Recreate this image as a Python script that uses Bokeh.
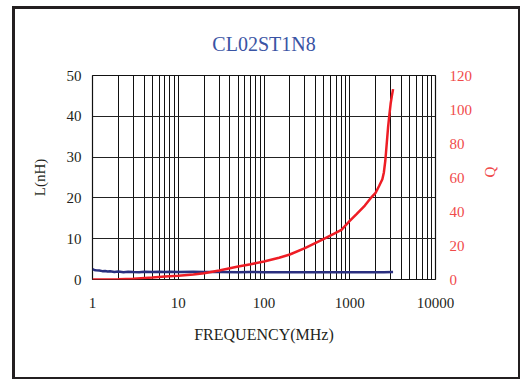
import math
from bokeh.plotting import figure
from bokeh.models import Range1d, LinearAxis, FixedTicker, BasicTickFormatter
from bokeh.embed import file_html
from bokeh.resources import INLINE

# ---- data ----
title_text = "CL02ST1N8"
x_ticks = [1, 10, 100, 1000, 10000]
l_ticks = [0, 10, 20, 30, 40, 50]
q_ticks = [0, 20, 40, 60, 80, 100, 120]

freq_L = [1, 1.05, 1.1, 1.2, 1.3, 1.4, 1.5, 1.6, 1.8, 2, 2.3, 2.6, 3, 3.5, 4, 5, 6, 7, 8,
          10, 15, 20, 30, 50, 70, 100, 150, 200, 300, 500, 700, 1000, 1500, 2000, 2500, 3200]
L_vals = [2.5, 2.35, 2.25, 2.2, 2.05, 2.1, 1.95, 2.0, 1.85, 1.95, 1.8, 1.9, 1.85, 1.8, 1.9, 1.85,
          1.9, 1.85, 1.9, 1.85, 1.9, 1.85, 1.85, 1.8, 1.85, 1.8, 1.8, 1.75, 1.8, 1.75, 1.75,
          1.75, 1.75, 1.8, 1.8, 1.85]

freq_Q = [1, 2, 3, 5, 7, 10, 15, 20, 30, 50, 70, 100, 150, 200, 300, 500, 650, 800,
          1000, 1200, 1500, 1800, 2000, 2200, 2400, 2500, 2600, 2700, 2800, 2900, 3000, 3100, 3200]
Q_vals = [0, 0.2, 0.5, 1.2, 1.7, 2.2, 3.0, 3.7, 5.3, 7.6, 9.0, 10.6, 12.8, 14.7, 18.5, 23.9,
          26.8, 29.2, 34.5, 38.5, 43.5, 48.5, 51, 55, 59, 63, 70, 80, 89.6, 97, 103.5, 108, 112]

FONT = "Liberation Serif"
BLUE = "#2a2f7f"
RED = "#ee1d25"
RED_TXT = "#f04a4a"
TXT = "#231f20"

p = figure(width=508, height=373, x_axis_type="log",
           x_range=Range1d(1, 10000), y_range=Range1d(0, 50),
           output_backend="svg", toolbar_location=None,
           min_border_left=77, min_border_right=88,
           min_border_top=66, min_border_bottom=103)
p.margin = (6, 0, 0, 12)
p.styles = {"border-style": "solid", "border-color": "#231f20",
            "border-width": "3px 2px 2px 3px"}
p.extra_y_ranges = {"q": Range1d(0, 120)}
p.background_fill_color = "white"
p.border_fill_color = "white"
p.outline_line_color = "#111111"
p.outline_line_width = 1.2

p.title.text = title_text
p.title.text_font = FONT
p.title.text_font_size = "20px"
p.title.text_font_style = "normal"
p.title.text_color = "#3a54a4"
p.title.align = "center"
p.title.offset = 6
p.title.standoff = 41

minor = [d * k for d in x_ticks[:-1] for k in range(2, 10)]

xa = p.xaxis[0]
xa.ticker = FixedTicker(ticks=x_ticks, minor_ticks=minor)
xa.formatter = BasicTickFormatter(use_scientific=False)
ya = p.yaxis[0]
ya.ticker = FixedTicker(ticks=l_ticks)

qa = LinearAxis(y_range_name="q", ticker=FixedTicker(ticks=q_ticks), axis_label="Q")
p.add_layout(qa, "right")

for ax in (xa, ya, qa):
    ax.axis_line_color = None
    ax.major_tick_line_color = None
    ax.minor_tick_line_color = None
    ax.major_tick_out = 0
    ax.major_tick_in = 0
    ax.minor_tick_out = 0
    ax.minor_tick_in = 0
    ax.major_label_text_font = FONT
    ax.major_label_text_font_size = "15px"
    ax.major_label_text_color = TXT
    ax.axis_label_text_font = FONT
    ax.axis_label_text_font_style = "normal"
    ax.axis_label_text_font_size = "15px"
    ax.axis_label_text_color = TXT

xa.axis_label = "FREQUENCY(MHz)"
xa.axis_label_text_font_size = "16px"
xa.major_label_standoff = 18
xa.axis_label_standoff = 15
ya.axis_label = "L(nH)"
ya.major_label_standoff = 11
ya.axis_label_standoff = 16
qa.major_label_standoff = 14
qa.axis_label_standoff = 15
qa.major_label_text_color = RED_TXT
qa.axis_label_text_color = RED_TXT
qa.axis_label_orientation = math.pi / 2

p.xgrid.grid_line_color = "#111111"
p.xgrid.grid_line_width = 1
p.xgrid.minor_grid_line_color = "#111111"
p.xgrid.minor_grid_line_width = 1
p.ygrid.grid_line_color = "#222222"
p.ygrid.grid_line_width = 1
p.ygrid.ticker = FixedTicker(ticks=l_ticks)

p.line(freq_L, L_vals, line_color=BLUE, line_width=2.5)
p.line(freq_Q, Q_vals, line_color=RED, line_width=2.5, y_range_name="q")

open("out.html", "w").write(file_html(p, INLINE))
